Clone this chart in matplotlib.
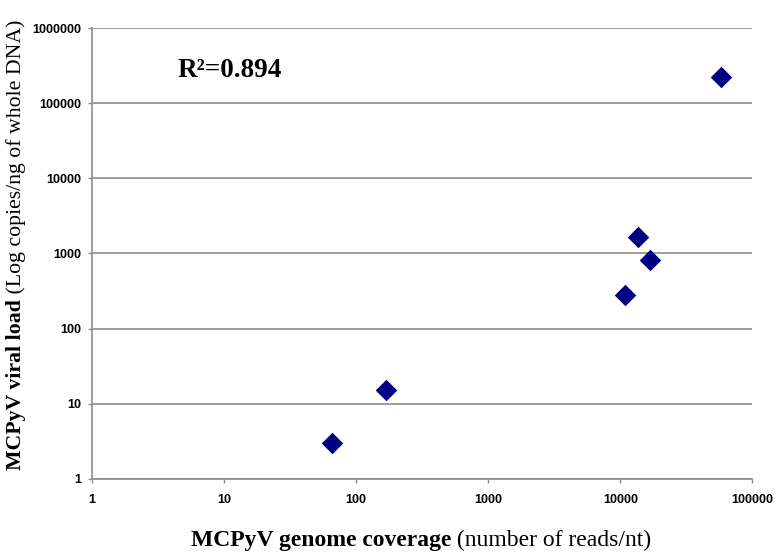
import matplotlib
matplotlib.use("Agg")
import matplotlib.pyplot as plt
import numpy as np

# genome coverage (reads/nt) vs viral load (copies/ng whole DNA)
coverage = [66, 168, 10900, 13600, 16900, 57800]
viral_load = [3.0, 15.1, 279, 1670, 813, 220000]
r2_text = "R\u00b2=0.894"

x_ticks = [1, 10, 100, 1000, 10000, 100000]
y_ticks = [1, 10, 100, 1000, 10000, 100000, 1000000]

SERIF = "Liberation Serif"
SANS = "Liberation Sans"
NAVY = "#000080"
GRID = "#8c8c8c"

fig = plt.figure(figsize=(7.78, 5.55), dpi=100)
ax = fig.add_axes([0.1183, 0.137, 0.8487, 0.8125])

ax.scatter(coverage, viral_load, marker="D", s=120, color=NAVY, zorder=3, linewidths=0)

ax.set_xscale("log")
ax.set_yscale("log")
ax.set_xlim(1, 100000)
ax.set_ylim(1, 1000000)
ax.set_xticks(x_ticks)
ax.set_yticks(y_ticks)
ax.set_xticklabels([str(v) for v in x_ticks])
ax.set_yticklabels([str(v) for v in y_ticks])
ax.minorticks_off()

for lab in ax.get_xticklabels() + ax.get_yticklabels():
    lab.set_fontfamily(SANS)
    lab.set_fontweight("bold")
    lab.set_fontsize(9)
ax.tick_params(axis="both", length=3, width=1, color=GRID)
ax.tick_params(axis="y", pad=4.5)
ax.tick_params(axis="x", pad=7.5)

ax.grid(True, axis="y", color=GRID, linewidth=1.2)
ax.set_axisbelow(True)
for side in ["top", "right"]:
    ax.spines[side].set_visible(False)
for side in ["left", "bottom"]:
    ax.spines[side].set_color(GRID)
    ax.spines[side].set_linewidth(1.2)

ax.text(0.209, 0.905, r2_text, transform=ax.transAxes, ha="center", va="center",
        fontsize=19.5, fontweight="bold", family=SERIF)

# two-part axis labels: bold name + regular unit
fig.canvas.draw()
renderer = fig.canvas.get_renderer()

# x label
xb = fig.text(0, 0.027, "MCPyV genome coverage", fontsize=17, fontweight="bold",
              family=SERIF, va="center", ha="left")
xr = fig.text(0, 0.027, " (number of reads/nt)", fontsize=17, family=SERIF,
              va="center", ha="left")
wb = xb.get_window_extent(renderer).width / fig.bbox.width
wr = xr.get_window_extent(renderer).width / fig.bbox.width
x0 = 0.541 - (wb + wr) / 2
xb.set_x(x0)
xr.set_x(x0 + wb)

# y label (rotated)
yb = fig.text(0.02, 0, "MCPyV viral load", fontsize=15.7, fontweight="bold",
              family=SERIF, rotation=90, va="bottom", ha="center")
yr = fig.text(0.02, 0, " (Log copies/ng of whole DNA)", fontsize=15.7, family=SERIF,
              rotation=90, va="bottom", ha="center")
hb = yb.get_window_extent(renderer).height / fig.bbox.height
hr = yr.get_window_extent(renderer).height / fig.bbox.height
y0 = 0.5586 - (hb + hr) / 2
yb.set_y(y0)
yr.set_y(y0 + hb)

fig.savefig("out.png", dpi=100)
